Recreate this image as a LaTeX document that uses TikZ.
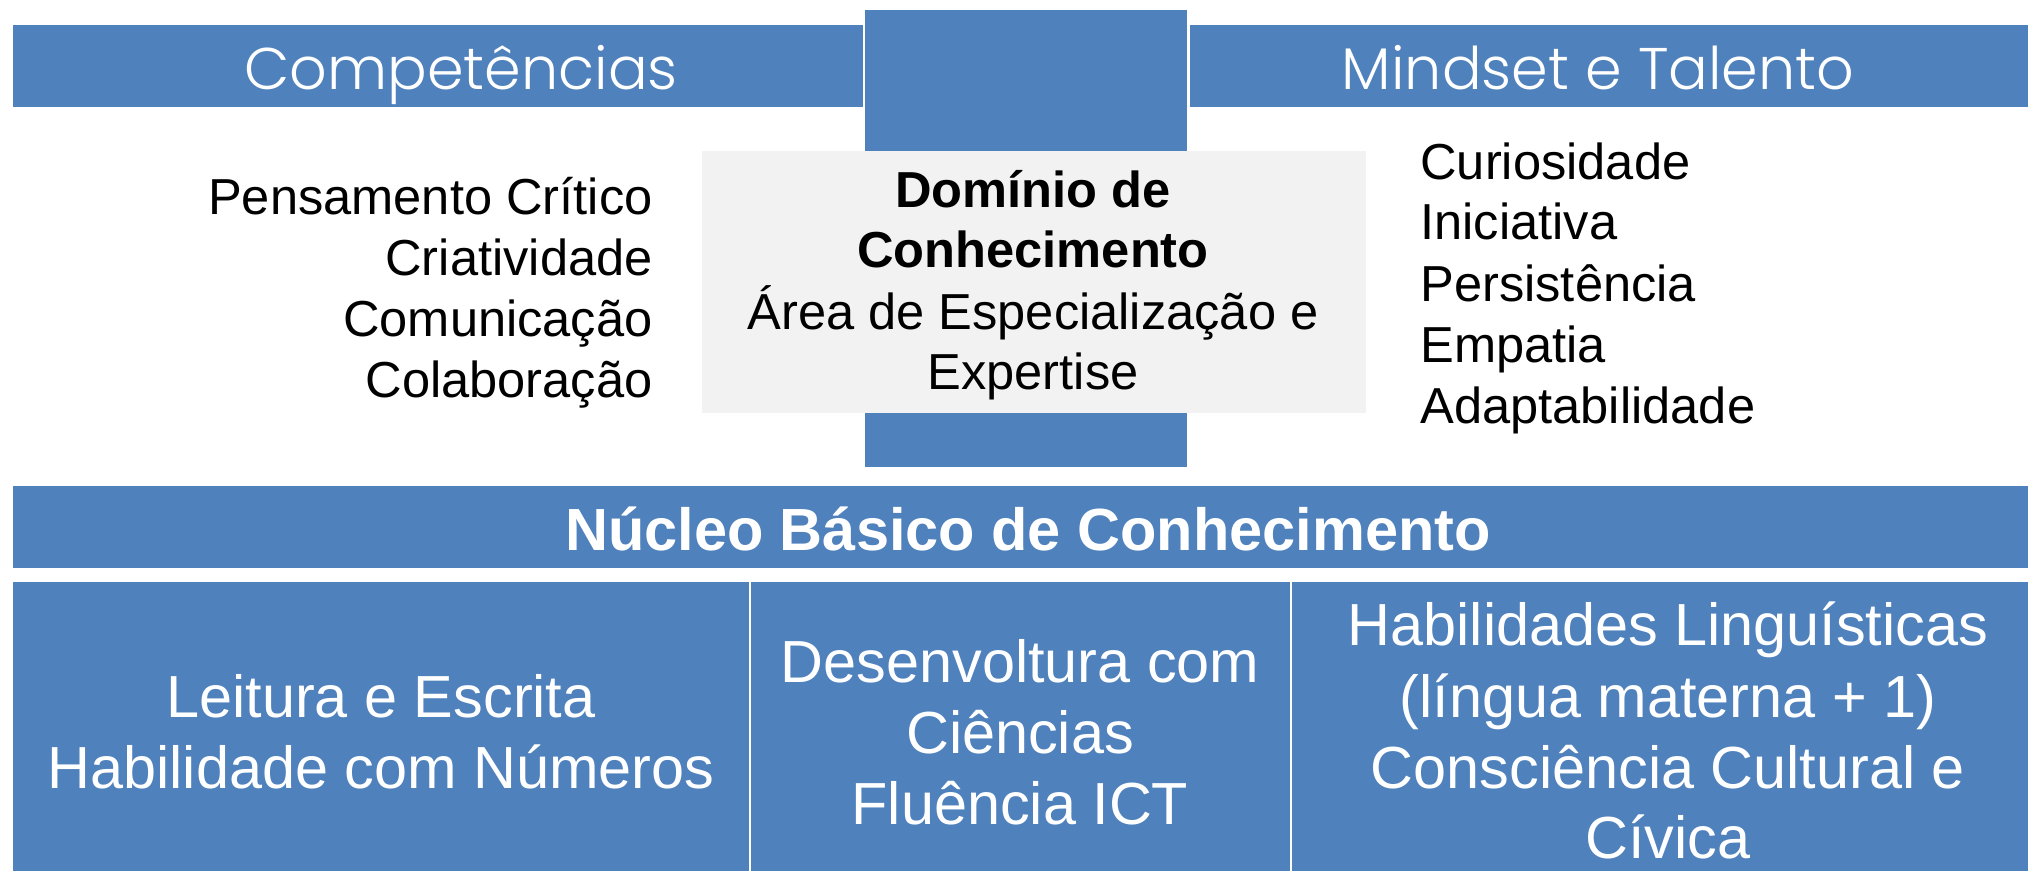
\documentclass[tikz,border=0pt]{standalone}
\usepackage{fontspec}
\setmainfont{Liberation Sans}
\newfontfamily\gothic{Poppins Light}
\definecolor{bl}{HTML}{4F81BD}
\definecolor{gr}{HTML}{F2F2F2}
\begin{document}
\begin{tikzpicture}[x=0.5pt,y=-0.5pt,
  head/.style={anchor=base,text=white,font=\gothic\fontsize{29.4}{35}\selectfont,inner sep=0},
  lst/.style={font=\fontsize{25.3}{30}\selectfont,inner sep=0,text=black},
  core/.style={anchor=base,text=white,font=\fontsize{29.7}{36}\selectfont,inner sep=0}]
\useasboundingbox (0,0) rectangle (2028,871);
% shapes
\fill[bl] (865,10) rectangle (1187,467);
\fill[gr] (702,151) rectangle (1366,413);
\fill[bl] (13,25) rectangle (863,107);
\fill[bl] (1190,25) rectangle (2028,107);
\fill[bl] (13,486) rectangle (2028,568);
\fill[bl] (13,582) rectangle (2028,871);
\draw[white,line width=1pt] (750,582) -- (750,871);
\draw[white,line width=1pt] (1291,582) -- (1291,871);
% headers
\node[head] (comp) at (461,90) {Competências};
\node[head] (mind) at (1598,90) {Mindset e Talento};
% left list
\node[lst,anchor=base east] (l1) at (653,215) {Pensamento Crítico};
\node[lst,anchor=base east] (l2) at (653,276) {Criatividade};
\node[lst,anchor=base east] (l3) at (653,337) {Comunicação};
\node[lst,anchor=base east] (l4) at (653,398) {Colaboração};
% centre
\node[lst,anchor=base,font=\bfseries\fontsize{25.3}{30}\selectfont] (c1) at (1033,208) {Domínio de};
\node[lst,anchor=base,font=\bfseries\fontsize{25.3}{30}\selectfont] (c2) at (1033,268) {Conhecimento};
\node[lst,anchor=base] (c3) at (1033,330) {Área de Especialização e};
\node[lst,anchor=base] (c4) at (1033,390) {Expertise};
% right list
\node[lst,anchor=base west] (r1) at (1420,180) {Curiosidade};
\node[lst,anchor=base west] (r2) at (1420,240) {Iniciativa};
\node[lst,anchor=base west] (r3) at (1420,302) {Persistência};
\node[lst,anchor=base west] (r4) at (1420,363) {Empatia};
\node[lst,anchor=base west] (r5) at (1420,423) {Adaptabilidade};
% nucleo
\node[anchor=base,text=white,font=\bfseries\fontsize{29.75}{35}\selectfont,inner sep=0] (nuc) at (1028,550) {Núcleo Básico de Conhecimento};
% bottom cells
\node[core] (a1) at (381,717) {Leitura e Escrita};
\node[core] (a2) at (381,788) {Habilidade com Números};
\node[core] (b1) at (1020,682) {Desenvoltura com};
\node[core] (b2) at (1020,753) {Ciências};
\node[core] (b3) at (1020,824) {Fluência ICT};
\node[core] (d1) at (1668,645) {Habilidades Linguísticas};
\node[core] (d2) at (1668,717) {(língua materna + 1)};
\node[core] (d3) at (1668,788) {Consciência Cultural e};
\node[core] (d4) at (1668,858) {Cívica};
\end{tikzpicture}
\end{document}
